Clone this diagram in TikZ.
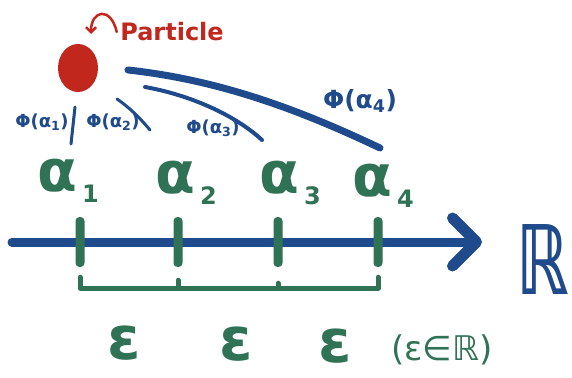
\documentclass[tikz,border=0pt]{standalone}
\usepackage{fontspec}
\setmainfont{DejaVu Sans}
\usetikzlibrary{
  arrows.meta,
  positioning,
  shapes.geometric
}
\definecolor{inkblue}{HTML}{1F4A8C}
\definecolor{inkgreen}{HTML}{2F7256}
\definecolor{inkred}{HTML}{C1271D}
\newcommand{\lowsub}[1]{\hspace{5pt}\raisebox{-11pt}{\fontsize{24}{24}\selectfont #1}}
\tikzset{
  particle/.style={
    ellipse,
    fill=inkred,
    minimum width=40pt,
    minimum height=48pt,
    inner sep=0pt
  },
  title/.style={text=inkred, font=\fontsize{24}{24}\selectfont\bfseries},
  pointer/.style={
    draw=inkred,
    line width=2.5pt,
    line cap=round,
    -{Straight Barb[length=5pt, width=10pt]}
  },
  axis/.style={
    draw=inkblue,
    line width=9pt,
    line cap=round,
    -{Straight Barb[length=24pt, width=48pt, line width=11pt, round]}
  },
  tickmark/.style={
    rectangle,
    rounded corners=4pt,
    fill=inkgreen,
    minimum width=9pt,
    minimum height=50pt,
    inner sep=0pt
  },
  brace/.style={
    draw=inkgreen,
    line width=5pt,
    line cap=round,
    line join=round
  },
  trace/.style={draw=inkblue, line cap=round, line join=round},
  philabel/.style={text=inkblue, font=\fontsize{18}{18}\selectfont\bfseries,
    inner sep=0pt},
  alphalabel/.style={text=inkgreen, font=\fontsize{58}{58}\selectfont\bfseries,
    anchor=base west, inner sep=0pt},
  epslabel/.style={text=inkgreen, font=\fontsize{60}{60}\selectfont\bfseries,
    anchor=base, inner sep=0pt},
  epsnote/.style={text=inkgreen, font=\fontsize{34}{34}\selectfont,
    anchor=base, inner sep=0pt},
  reals/.style={text=inkblue, font=\fontsize{96}{96}\selectfont\bfseries,
    anchor=base west, inner sep=0pt, xscale=0.68, transform shape}
}

\begin{document}
\begin{tikzpicture}[x=1pt, y=-1pt]
  \useasboundingbox (0,0) rectangle (572,377);

  % the particle
  \node[particle] (dot) at (78,68) {};
  \node[title] (particle) at (172,32) {Particle};
  \coordinate (hookhead) at (91,34);
  \draw[pointer] (particle.west) .. controls +(-6,-26) and +(0,-24) .. (hookhead);

  % its traces
  \coordinate (trace1a) at (75,107);
  \coordinate (trace1b) at (71,144);
  \coordinate (trace2a) at (117,99);
  \coordinate (trace2b) at (150,130);
  \coordinate (trace3a) at (145,87);
  \coordinate (trace3b) at (262,140);
  \coordinate (trace4a) at (128,70);
  \coordinate (trace4b) at (380,148);
  \draw[trace, line width=3pt] (trace1a) -- (trace1b);
  \draw[trace, line width=3pt] (trace2a) .. controls (130,108) and (140,118) .. (trace2b);
  \draw[trace, line width=4pt] (trace3a) .. controls (190,95) and (235,115) .. (trace3b);
  \draw[trace, line width=7pt] (trace4a) .. controls (220,80) and (300,110) .. (trace4b);

  \node[philabel] (phi1) at (42,122) {Φ(α\textsubscript{1})};
  \node[philabel] (phi2) at (113,122) {Φ(α\textsubscript{2})};
  \node[philabel] (phi3) at (213,128) {Φ(α\textsubscript{3})};
  \node[philabel, font=\fontsize{25}{25}\selectfont\bfseries] (phi4) at (360,101)
    {Φ(α\textsubscript{4})};

  % the real line
  \coordinate (origin) at (12,242);
  \coordinate (axisend) at (482,242);
  \draw[axis] (origin) -- (axisend);
  \node[reals] (R) at (516,294) {ℝ};

  \node[tickmark] (t1) at (80,242) {};
  \node[tickmark] (t2) at (178,242) {};
  \node[tickmark] (t3) at (278,242) {};
  \node[tickmark] (t4) at (378,242) {};

  \node[alphalabel] (a1) at (37,191) {α\lowsub{1}};
  \node[alphalabel] (a2) at (155,193) {α\lowsub{2}};
  \node[alphalabel] (a3) at (259,193) {α\lowsub{3}};
  \node[alphalabel] (a4) at (352,196) {α\lowsub{4}};

  % steps of width epsilon
  \draw[brace] ([yshift=-10pt]t1.south) -- ([yshift=-21pt]t1.south)
    -- ([yshift=-21pt]t4.south) -- ([yshift=-10pt]t4.south);
  \draw[brace] ([yshift=-13pt]t2.south) -- ([yshift=-21pt]t2.south);
  \draw[brace] ([yshift=-16pt]t3.south) -- ([yshift=-21pt]t3.south);

  \node[epslabel] (e1) at (124,359) {ε};
  \node[epslabel] (e2) at (236,360) {ε};
  \node[epslabel] (e3) at (335,362) {ε};
  \node[epsnote] (e4) at (442,360) {(ε∈ℝ)};
\end{tikzpicture}
\end{document}
